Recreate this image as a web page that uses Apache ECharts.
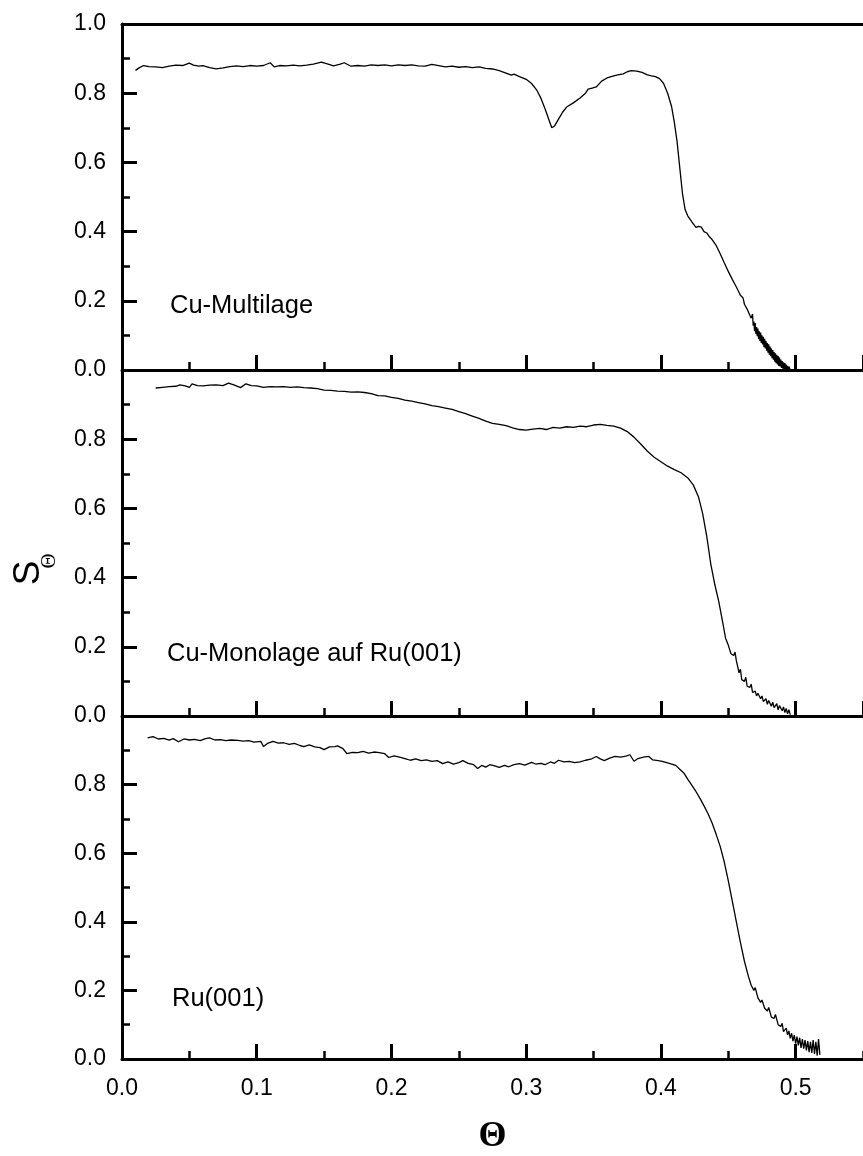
<!DOCTYPE html>
<html>
<head>
<meta charset="utf-8">
<script src="https://cdn.jsdelivr.net/npm/echarts@6/dist/echarts.min.js"></script>
<style>
  html, body { margin: 0; padding: 0; background: #fff; }
  #chart { width: 863px; height: 1156px; }
</style>
</head>
<body>
<div id="chart"></div>
<script>
// S_Θ versus coverage Θ, three samples, each as [Θ, S_Θ] pairs
const cuMultilage = [
  [0.010,0.866],[0.013,0.874],[0.016,0.880],[0.020,0.877],[0.025,0.876],[0.030,0.874],[0.035,0.878],
  [0.040,0.881],[0.045,0.880],[0.050,0.887],[0.053,0.881],[0.057,0.878],[0.060,0.880],[0.065,0.874],
  [0.070,0.870],[0.075,0.873],[0.080,0.877],[0.085,0.879],[0.090,0.877],[0.095,0.880],[0.100,0.878],
  [0.105,0.880],[0.110,0.888],[0.113,0.876],[0.117,0.880],[0.122,0.879],[0.127,0.881],[0.132,0.879],
  [0.137,0.881],[0.142,0.884],[0.148,0.890],[0.153,0.884],[0.157,0.879],[0.162,0.884],[0.165,0.888],
  [0.170,0.878],[0.175,0.880],[0.180,0.878],[0.185,0.882],[0.190,0.880],[0.195,0.882],[0.200,0.879],
  [0.205,0.882],[0.210,0.880],[0.215,0.882],[0.220,0.879],[0.225,0.878],[0.230,0.883],[0.235,0.880],
  [0.240,0.876],[0.245,0.878],[0.250,0.875],[0.255,0.877],[0.260,0.874],[0.265,0.876],[0.270,0.872],
  [0.275,0.870],[0.280,0.865],[0.285,0.858],[0.289,0.852],[0.291,0.855],[0.295,0.848],[0.300,0.840],
  [0.304,0.828],[0.308,0.808],[0.311,0.785],[0.314,0.755],[0.317,0.722],[0.319,0.700],[0.321,0.705],
  [0.324,0.725],[0.327,0.745],[0.330,0.760],[0.335,0.772],[0.340,0.786],[0.344,0.800],[0.346,0.812],
  [0.349,0.815],[0.352,0.818],[0.356,0.835],[0.360,0.844],[0.365,0.850],[0.368,0.853],[0.372,0.856],
  [0.375,0.862],[0.378,0.865],[0.382,0.864],[0.386,0.860],[0.390,0.853],[0.393,0.850],[0.396,0.848],
  [0.399,0.842],[0.402,0.828],[0.405,0.800],[0.408,0.760],[0.410,0.715],[0.412,0.660],[0.414,0.585],
  [0.416,0.510],[0.418,0.463],[0.420,0.445],[0.423,0.428],[0.426,0.412],[0.428,0.415],[0.430,0.413],
  [0.432,0.400],[0.434,0.396],[0.436,0.385],[0.438,0.377],[0.441,0.360],[0.444,0.336],[0.447,0.310],
  [0.450,0.285],[0.453,0.262],[0.456,0.240],[0.459,0.216],[0.461,0.208],[0.462,0.190],[0.464,0.176],
  [0.466,0.158],[0.467,0.150],[0.468,0.162],[0.4685,0.128],[0.469,0.140],[0.4695,0.112],[0.470,0.136],
  [0.4705,0.104],[0.471,0.124],[0.4715,0.098],[0.472,0.120],[0.4725,0.090],[0.473,0.112],[0.4735,0.084],
  [0.474,0.108],[0.4745,0.078],[0.475,0.100],[0.4755,0.074],[0.476,0.096],[0.4765,0.066],[0.477,0.090],
  [0.4775,0.062],[0.478,0.084],[0.4785,0.056],[0.479,0.078],[0.4795,0.050],[0.480,0.074],[0.4805,0.044],
  [0.481,0.068],[0.4815,0.040],[0.482,0.062],[0.4825,0.034],[0.483,0.058],[0.4835,0.030],[0.484,0.052],
  [0.4845,0.024],[0.485,0.048],[0.4855,0.020],[0.486,0.044],[0.4865,0.016],[0.487,0.040],[0.4875,0.012],
  [0.488,0.036],[0.4885,0.010],[0.489,0.030],[0.4895,0.006],[0.490,0.026],[0.4905,0.004],[0.491,0.022],
  [0.4915,0.002],[0.492,0.020],[0.4925,0.000],[0.493,0.016],[0.4935,0.000],[0.494,0.012],[0.4945,0.000],
  [0.495,0.010],[0.496,0.000]
];

const cuMonolage = [
  [0.025,0.948],[0.030,0.950],[0.035,0.952],[0.040,0.953],[0.043,0.957],[0.047,0.954],[0.050,0.950],
  [0.052,0.960],[0.056,0.955],[0.060,0.954],[0.065,0.956],[0.070,0.957],[0.075,0.955],[0.079,0.962],
  [0.083,0.957],[0.088,0.949],[0.092,0.960],[0.096,0.955],[0.100,0.954],[0.105,0.950],[0.110,0.952],
  [0.115,0.951],[0.120,0.952],[0.125,0.950],[0.130,0.951],[0.135,0.949],[0.140,0.948],[0.145,0.946],
  [0.150,0.942],[0.155,0.941],[0.160,0.939],[0.165,0.938],[0.170,0.936],[0.175,0.937],[0.180,0.935],
  [0.185,0.932],[0.190,0.926],[0.195,0.925],[0.200,0.921],[0.205,0.918],[0.210,0.913],[0.215,0.910],
  [0.220,0.906],[0.225,0.902],[0.230,0.897],[0.235,0.894],[0.240,0.890],[0.245,0.886],[0.250,0.880],
  [0.255,0.874],[0.260,0.867],[0.265,0.860],[0.270,0.852],[0.275,0.846],[0.280,0.843],[0.285,0.839],
  [0.290,0.833],[0.295,0.828],[0.300,0.826],[0.305,0.829],[0.310,0.831],[0.315,0.828],[0.320,0.834],
  [0.325,0.832],[0.330,0.836],[0.335,0.834],[0.340,0.838],[0.345,0.836],[0.350,0.841],[0.355,0.843],
  [0.360,0.840],[0.365,0.838],[0.370,0.832],[0.375,0.822],[0.380,0.806],[0.385,0.786],[0.390,0.765],
  [0.395,0.748],[0.400,0.735],[0.405,0.722],[0.410,0.712],[0.415,0.703],[0.420,0.688],[0.424,0.668],
  [0.428,0.632],[0.431,0.585],[0.434,0.520],[0.437,0.440],[0.440,0.380],[0.443,0.330],[0.446,0.268],
  [0.448,0.225],[0.450,0.205],[0.452,0.180],[0.454,0.175],[0.455,0.185],[0.456,0.160],[0.458,0.125],
  [0.459,0.135],[0.460,0.105],[0.462,0.100],[0.463,0.112],[0.464,0.086],[0.466,0.083],[0.467,0.092],
  [0.468,0.068],[0.470,0.072],[0.471,0.058],[0.472,0.066],[0.474,0.050],[0.475,0.058],[0.476,0.042],
  [0.478,0.050],[0.479,0.034],[0.480,0.045],[0.482,0.028],[0.483,0.040],[0.484,0.024],[0.486,0.036],
  [0.487,0.018],[0.488,0.030],[0.490,0.015],[0.491,0.026],[0.492,0.010],[0.493,0.022],[0.494,0.006],
  [0.495,0.018],[0.496,0.004]
];

const ru001 = [
  [0.019,0.936],[0.023,0.940],[0.027,0.933],[0.031,0.935],[0.035,0.930],[0.038,0.934],[0.042,0.925],
  [0.046,0.933],[0.050,0.930],[0.054,0.932],[0.058,0.928],[0.062,0.934],[0.065,0.936],[0.069,0.930],
  [0.073,0.931],[0.077,0.928],[0.081,0.930],[0.086,0.929],[0.090,0.927],[0.094,0.928],[0.098,0.924],
  [0.103,0.926],[0.105,0.911],[0.108,0.920],[0.112,0.926],[0.116,0.921],[0.120,0.922],[0.124,0.917],
  [0.128,0.920],[0.132,0.914],[0.135,0.911],[0.139,0.916],[0.143,0.910],[0.147,0.908],[0.150,0.902],
  [0.154,0.910],[0.158,0.911],[0.160,0.913],[0.164,0.905],[0.167,0.890],[0.171,0.894],[0.175,0.893],
  [0.179,0.897],[0.183,0.892],[0.187,0.895],[0.191,0.893],[0.195,0.890],[0.198,0.879],[0.202,0.884],
  [0.206,0.880],[0.210,0.876],[0.214,0.871],[0.218,0.875],[0.222,0.870],[0.226,0.872],[0.230,0.868],
  [0.234,0.870],[0.238,0.861],[0.242,0.866],[0.246,0.860],[0.250,0.864],[0.253,0.870],[0.257,0.862],
  [0.261,0.858],[0.264,0.847],[0.267,0.856],[0.270,0.851],[0.273,0.858],[0.276,0.855],[0.280,0.850],
  [0.284,0.856],[0.287,0.852],[0.291,0.858],[0.295,0.861],[0.299,0.857],[0.304,0.865],[0.307,0.860],
  [0.311,0.862],[0.314,0.858],[0.318,0.866],[0.321,0.862],[0.324,0.871],[0.328,0.866],[0.332,0.868],
  [0.336,0.864],[0.340,0.866],[0.344,0.871],[0.348,0.874],[0.352,0.882],[0.355,0.875],[0.358,0.870],
  [0.362,0.877],[0.366,0.882],[0.370,0.880],[0.374,0.883],[0.377,0.887],[0.380,0.868],[0.383,0.876],
  [0.387,0.880],[0.391,0.882],[0.394,0.872],[0.398,0.870],[0.401,0.868],[0.405,0.863],[0.408,0.860],
  [0.411,0.856],[0.414,0.845],[0.417,0.834],[0.420,0.815],[0.423,0.798],[0.426,0.780],[0.429,0.760],
  [0.432,0.738],[0.435,0.715],[0.438,0.688],[0.441,0.655],[0.444,0.620],[0.447,0.575],[0.450,0.520],
  [0.453,0.460],[0.456,0.400],[0.459,0.340],[0.462,0.285],[0.465,0.240],[0.467,0.215],[0.469,0.200],
  [0.470,0.208],[0.472,0.178],[0.474,0.165],[0.475,0.172],[0.477,0.148],[0.479,0.140],[0.480,0.150],
  [0.482,0.122],[0.484,0.118],[0.485,0.130],[0.487,0.100],[0.489,0.095],[0.490,0.104],[0.491,0.080],
  [0.493,0.090],[0.494,0.070],[0.495,0.082],[0.496,0.060],[0.497,0.075],[0.498,0.052],[0.499,0.070],
  [0.500,0.045],[0.501,0.065],[0.502,0.040],[0.503,0.062],[0.504,0.032],[0.505,0.058],[0.506,0.030],
  [0.507,0.055],[0.508,0.025],[0.509,0.052],[0.510,0.020],[0.511,0.050],[0.512,0.018],[0.513,0.055],
  [0.514,0.015],[0.515,0.050],[0.516,0.010],[0.517,0.058],[0.518,0.012]
];

const panelData = [cuMultilage, cuMonolage, ru001];
const panelLabels = ['Cu-Multilage', 'Cu-Monolage auf Ru(001)', 'Ru(001)'];
const thetaRange = [0, 0.55];
const thetaMajorStep = 0.1;
const thetaMinorStep = 0.05;
const sRange = [0, 1];
const sMajorStep = 0.2;

// layout
const GRID_LEFT = 122;
const GRID_WIDTH = 751.3;
const PANEL_H = 346;
const PANEL_TOPS = [24, 370, 716];
const LABEL_POS = [[170, 306], [167, 654], [172, 999]];
const SANS = 'Liberation Sans, Arial, sans-serif';
const SERIF = 'Liberation Serif, Times New Roman, serif';
const INK = '#000';

const chart = echarts.init(document.getElementById('chart'), null, { renderer: 'canvas' });

const grids = PANEL_TOPS.map(top => ({ left: GRID_LEFT, top: top, width: GRID_WIDTH, height: PANEL_H }));

const xAxes = [];
const yAxes = [];
const series = [];

panelData.forEach((data, i) => {
  const isBottom = i === panelData.length - 1;
  const majorIndex = xAxes.length;
  // major Θ ticks (and labels on the lowest panel)
  xAxes.push({
    type: 'value', gridIndex: i, position: 'bottom',
    min: thetaRange[0], max: thetaRange[1], interval: thetaMajorStep,
    axisLine: { show: true, onZero: false, lineStyle: { color: INK, width: 3 } },
    axisTick: { show: true, inside: true, length: 15, lineStyle: { color: INK, width: 3 } },
    axisLabel: {
      show: isBottom, color: INK, fontSize: 23, fontFamily: SANS, margin: 18,
      showMaxLabel: false,
      formatter: v => v.toFixed(1)
    },
    splitLine: { show: false },
    name: isBottom ? 'Θ' : '',
    nameLocation: 'middle', nameGap: 60,
    nameTextStyle: { color: INK, fontSize: 36, fontWeight: 'bold', fontFamily: SERIF }
  });
  // minor Θ ticks
  xAxes.push({
    type: 'value', gridIndex: i, position: 'bottom',
    min: thetaRange[0], max: thetaRange[1], interval: thetaMinorStep,
    axisLine: { show: false, onZero: false },
    axisTick: { show: true, inside: true, length: 8, lineStyle: { color: INK, width: 2.5 } },
    axisLabel: { show: false },
    splitLine: { show: false }
  });
  yAxes.push({
    type: 'value', gridIndex: i,
    min: sRange[0], max: sRange[1], interval: sMajorStep,
    axisLine: { show: true, onZero: false, lineStyle: { color: INK, width: 3 } },
    axisTick: { show: true, inside: true, length: 15, lineStyle: { color: INK, width: 3 } },
    minorTick: { show: true, splitNumber: 2, length: 8, lineStyle: { color: INK, width: 2.5 } },
    axisLabel: {
      color: INK, fontSize: 23, fontFamily: SANS, margin: 16,
      formatter: v => (i > 0 && v >= 1) ? '' : v.toFixed(1)
    },
    splitLine: { show: false }
  });
  series.push({
    type: 'line', xAxisIndex: majorIndex, yAxisIndex: i,
    data: data, showSymbol: false, symbol: 'none',
    lineStyle: { color: INK, width: 1.3 },
    clip: true, silent: true
  });
});

// frame line along the top of the upper panel
xAxes.push({
  type: 'value', gridIndex: 0, position: 'top',
  min: thetaRange[0], max: thetaRange[1], interval: thetaMajorStep,
  axisLine: { show: true, onZero: false, lineStyle: { color: INK, width: 3 } },
  axisTick: { show: false }, axisLabel: { show: false }, splitLine: { show: false }
});

const graphics = panelLabels.map((txt, i) => ({
  type: 'text', x: LABEL_POS[i][0], y: LABEL_POS[i][1], silent: true,
  style: { text: txt, fill: INK, font: '25.5px ' + SANS, textAlign: 'left', textVerticalAlign: 'middle' }
}));

// y-axis title: S with subscript Θ, reading upward
graphics.push({
  type: 'text', x: 29, y: 573, rotation: Math.PI / 2, silent: true,
  style: { text: 'S', fill: INK, font: '37px ' + SANS, textAlign: 'center', textVerticalAlign: 'middle' }
});
graphics.push({
  type: 'text', x: 49, y: 561, rotation: Math.PI / 2, silent: true,
  style: { text: 'Θ', fill: INK, font: '21px ' + SERIF, textAlign: 'center', textVerticalAlign: 'middle' }
});

chart.setOption({
  animation: false,
  backgroundColor: '#fff',
  grid: grids,
  xAxis: xAxes,
  yAxis: yAxes,
  series: series,
  graphic: graphics
});
</script>
</body>
</html>
